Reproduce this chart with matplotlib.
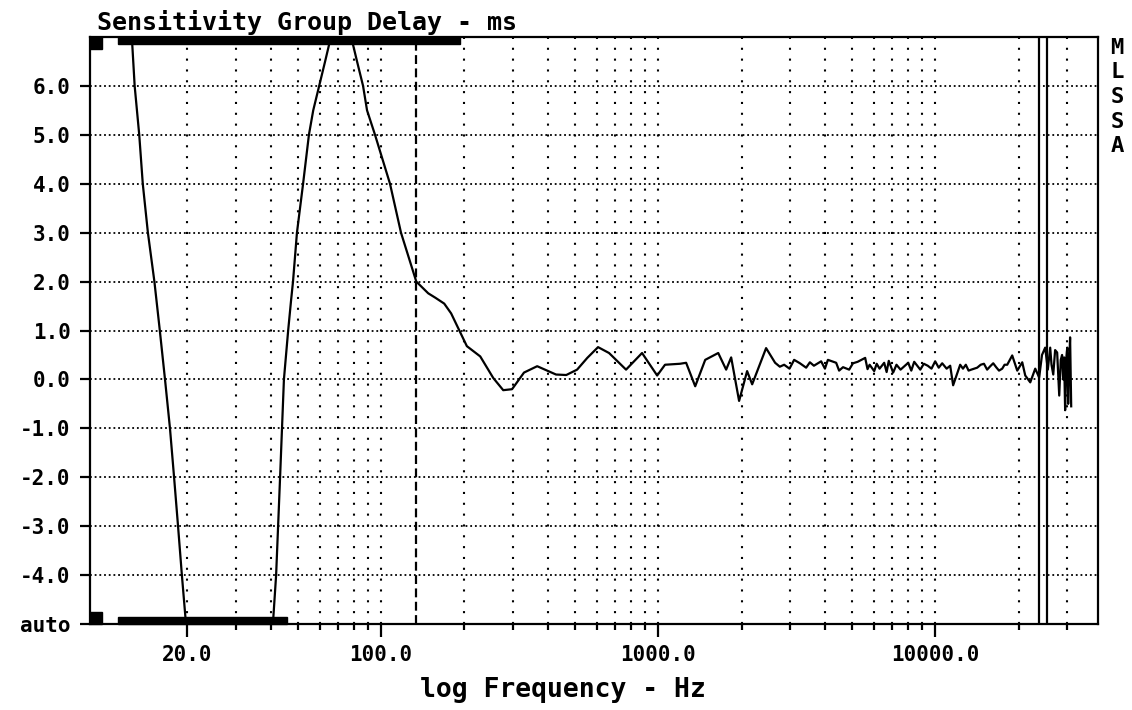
import matplotlib
matplotlib.use("Agg")
import matplotlib.pyplot as plt
from matplotlib.patches import Rectangle
from matplotlib.ticker import FixedLocator, FixedFormatter, NullFormatter
import matplotlib.transforms as mtransforms

# sensitivity group delay trace (Hz, ms)
freq_hz = [12.3, 12.6, 12.9, 13.4, 13.8, 14.4, 15.2, 15.9, 16.6, 17.3, 17.9, 18.5, 19.1, 19.9, 20.5,
           40.2, 40.7, 41.8, 43.2, 44.6, 46.2, 47.3, 48.1, 49.7, 52.3, 54.9, 56.9, 59.8, 62.8, 65.9,
           71.0, 78.0, 81.9, 86.1, 89.0, 95.1, 107.7, 118.0, 134, 148, 157, 169, 179, 204, 228,
           254, 276, 297, 328, 366, 428, 466, 510, 555, 607, 665, 766, 875, 992, 1059, 1200,
           1262, 1361, 1479, 1648, 1760, 1835, 1960, 2095, 2185, 2453, 2644, 2750, 2850, 2980, 3097, 3250,
           3422, 3530, 3650, 3876, 4000, 4100, 4392, 4500, 4650, 4893, 5050, 5250, 5589, 5700, 5800, 6024,
           6150, 6300, 6546, 6680, 6800, 7052, 7250, 7500, 7993, 8200, 8400, 8837, 9100, 9400, 9700,
           10000, 10300, 10600, 11000, 11330, 11610, 12310, 12600, 12900, 13200, 13500,
           14180, 14600, 15000, 15400, 15810, 16200, 16600, 17000, 17460, 17800, 18200, 18970, 19780,
           20620, 21140, 22040, 22970,
           23730, 24300, 24950, 25500, 26010, 26300, 26680, 27100, 27560, 28040, 28400, 28710,
           28970, 29200, 29450, 29700, 29970, 30200, 30450, 30690, 30970]
delay_ms = [7.5, 7.0, 6.0, 5.0, 4.0, 3.0, 2.0, 1.0, 0.0, -1.0, -2.0, -3.0, -4.0, -5.2, -6.5,
            -6.5, -5.0, -4.0, -2.0, 0.0, 1.0, 1.6, 2.0, 3.0, 4.0, 5.0, 5.5, 6.0, 6.5, 7.0,
            7.5, 7.0, 6.5, 6.0, 5.5, 5.0, 4.0, 3.0, 2.0, 1.76, 1.67, 1.55, 1.35, 0.68, 0.47,
            0.03, -0.22, -0.20, 0.14, 0.27, 0.10, 0.09, 0.20, 0.44, 0.66, 0.54, 0.20, 0.54, 0.08, 0.30, 0.32,
            0.34, -0.14, 0.40, 0.54, 0.20, 0.45, -0.44, 0.17, -0.10, 0.64, 0.34, 0.26, 0.30, 0.22, 0.40, 0.33,
            0.24, 0.35, 0.28, 0.37, 0.22, 0.40, 0.34, 0.18, 0.25, 0.20, 0.33, 0.36, 0.44, 0.21, 0.30, 0.17,
            0.32, 0.22, 0.34, 0.15, 0.38, 0.14, 0.30, 0.20, 0.34, 0.18, 0.36, 0.20, 0.32, 0.28, 0.22,
            0.37, 0.24, 0.33, 0.22, 0.28, -0.12, 0.30, 0.22, 0.30, 0.18, 0.20,
            0.24, 0.30, 0.32, 0.20, 0.27, 0.33, 0.25, 0.18, 0.22, 0.30, 0.30, 0.49, 0.18,
            0.35, 0.08, -0.06, 0.22,
            0.04, 0.50, 0.65, 0.20, 0.65, 0.30, 0.10, 0.60, 0.55, -0.33, 0.40, 0.50,
            0.00, 0.45, -0.63, 0.40, 0.65, -0.50, 0.30, 0.86, -0.55]

major_ticks = [20, 100, 1000, 10000]
major_labels = ["20.0", "100.0", "1000.0", "10000.0"]
minor_ticks = [30, 40, 50, 60, 70, 80, 90,
               200, 300, 400, 500, 600, 700, 800, 900,
               2000, 3000, 4000, 5000, 6000, 7000, 8000, 9000,
               20000, 30000]
y_ticks = [6, 5, 4, 3, 2, 1, 0, -1, -2, -3, -4, -5]
y_labels = ["6.0", "5.0", "4.0", "3.0", "2.0", "1.0", "0.0", "-1.0", "-2.0", "-3.0", "-4.0", "auto"]

# cursors / window markers (Hz)
cursor_hz = 134
marker_lines_hz = [23700, 25300]
top_bar_hz = (11.2, 193)
bottom_bar_hz = (11.2, 45.8)

font = "DejaVu Sans Mono"

fig = plt.figure(figsize=(11.32, 7.10), dpi=100)
ax = fig.add_axes([90 / 1132, 1 - 624 / 710, 1008 / 1132, 587 / 710])
ax.set_xscale("log")
ax.set_xlim(8.9, 38700)
ax.set_ylim(-5, 7)

# grid
for yv in range(-4, 7):
    ax.axhline(yv, color="black", lw=1.3, ls=(0, (1, 1.6)), zorder=1)
for xv in major_ticks + minor_ticks:
    ax.axvline(xv, color="black", lw=1.5, ls=(0, (1, 4.2)), zorder=1)

ax.axvline(cursor_hz, color="black", lw=1.6, ls=(0, (4, 2)), zorder=2)
for xv in marker_lines_hz:
    ax.axvline(xv, color="black", lw=1.6, zorder=2)

ax.plot(freq_hz, delay_ms, color="black", lw=1.6, zorder=3)

# window bars and corner blocks
trans = mtransforms.blended_transform_factory(ax.transData, ax.transAxes)
bh = 7 / 587
ax.add_patch(Rectangle((top_bar_hz[0], 1 - bh), top_bar_hz[1] - top_bar_hz[0], bh,
                       transform=trans, color="black", clip_on=False, zorder=4))
ax.add_patch(Rectangle((bottom_bar_hz[0], 0), bottom_bar_hz[1] - bottom_bar_hz[0], bh,
                       transform=trans, color="black", clip_on=False, zorder=4))
sw, sh = 12 / 1008, 12 / 587
ax.add_patch(Rectangle((0, 1 - sh), sw, sh, transform=ax.transAxes, color="black",
                       clip_on=False, zorder=4))
ax.add_patch(Rectangle((0, 0), sw, sh, transform=ax.transAxes, color="black",
                       clip_on=False, zorder=4))

ax.xaxis.set_major_locator(FixedLocator(major_ticks))
ax.xaxis.set_major_formatter(FixedFormatter(major_labels))
ax.xaxis.set_minor_locator(FixedLocator(minor_ticks))
ax.xaxis.set_minor_formatter(NullFormatter())
ax.yaxis.set_major_locator(FixedLocator(y_ticks))
ax.yaxis.set_major_formatter(FixedFormatter(y_labels))
ax.yaxis.set_minor_locator(FixedLocator([]))

ax.tick_params(axis="x", which="major", length=9, width=1.6, pad=6, direction="out")
ax.tick_params(axis="x", which="minor", length=4.5, width=1.6, direction="out")
ax.tick_params(axis="y", which="major", length=7, width=1.6, pad=7, direction="out")
for lab in ax.get_xticklabels() + ax.get_yticklabels():
    lab.set_fontfamily(font)
    lab.set_fontweight("bold")
    lab.set_fontsize(15)

for sp in ax.spines.values():
    sp.set_linewidth(1.6)

fig.text(97 / 1132, 1 - 30 / 710, "Sensitivity Group Delay - ms", family=font,
         weight="bold", fontsize=18, ha="left", va="baseline")
fig.text(563 / 1132, 1 - 697 / 710, "log Frequency - Hz", family=font,
         weight="bold", fontsize=19, ha="center", va="baseline")

for i, ch in enumerate("MLSSA"):
    fig.text(1117 / 1132, 1 - (48 + 24.5 * i) / 710, ch, family=font, weight="bold",
             fontsize=16, ha="center", va="center")

fig.savefig("out.png", dpi=100)
